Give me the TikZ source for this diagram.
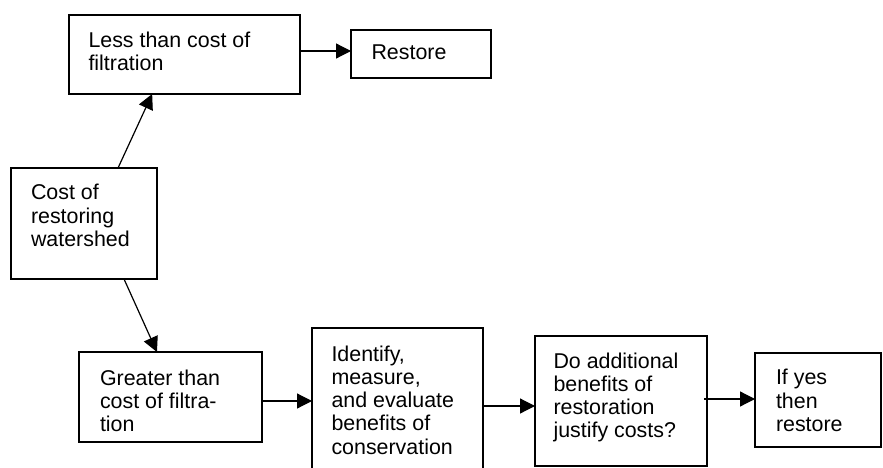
\documentclass[tikz,border=0pt]{standalone}
\usepackage{fontspec}
\setmainfont{Liberation Sans}
\usetikzlibrary{arrows.meta,calc}
\begin{document}
\begin{tikzpicture}[x=1pt,y=-1pt,
  box/.style={draw=black,line width=1.3pt,rectangle,inner sep=0pt,outer sep=0pt,anchor=north west},
  txt/.style={inner sep=0pt,outer sep=0pt,anchor=north west,align=left,font=\fontsize{21.4}{23.3}\selectfont},
  arr/.style={line width=1.2pt,-{Triangle[length=15pt,width=15pt]}}]
\useasboundingbox (0,0) rectangle (883,468);
\clip (0,0) rectangle (883,468);
% boxes
\node[box,minimum width=231pt,minimum height=79pt] (less) at (69,15) {};
\node[box,minimum width=140pt,minimum height=48pt] (restore) at (351,30) {};
\node[box,minimum width=146pt,minimum height=111pt] (cost) at (11,168) {};
\node[box,minimum width=183pt,minimum height=90pt] (greater) at (79,352) {};
\node[box,minimum width=171pt,minimum height=180pt] (identify) at (312,328) {};
\node[box,minimum width=172pt,minimum height=130pt] (do) at (535,336) {};
\node[box,minimum width=126pt,minimum height=94pt] (ifyes) at (755,353) {};
% texts
\node[txt] (tless) at (88.5,31.5) {Less than cost of\\filtration};
\node[txt] (trestore) at (371.5,44.5) {Restore};
\node[txt] (tcost) at (31,184.5) {Cost of\\restoring\\watershed};
\node[txt] (tgreater) at (100,369.5) {Greater than\\cost of filtra-\\tion};
\node[txt] (tidentify) at (331.5,345.5) {Identify,\\measure,\\and evaluate\\benefits of\\conservation};
\node[txt] (tdo) at (553.5,352.5) {Do additional\\benefits of\\restoration\\justify costs?};
\node[txt] (tif) at (776,369.5) {If yes\\then\\restore};
% connectors
\coordinate (a1) at ($(less.east)+(0,-3.5)$);
\draw[arr] (a1) -- (a1 -| restore.west);
\draw[arr] ($(cost.north west)!0.733!(cost.north east)$) -- ($(less.south west)!0.36!(less.south east)$);
\draw[arr] ($(cost.south west)!0.774!(cost.south east)$) -- ($(greater.north west)!0.426!(greater.north east)$);
\coordinate (a2) at ($(greater.east)+(0,4)$);
\draw[arr] (a2) -- (a2 -| identify.west);
\coordinate (a3) at ($(identify.east)+(0,-12)$);
\draw[arr] (a3) -- (a3 -| do.west);
\coordinate (a4) at ($(do.east)+(-3,-2)$);
\draw[arr] (a4) -- (a4 -| ifyes.west);
\end{tikzpicture}
\end{document}
